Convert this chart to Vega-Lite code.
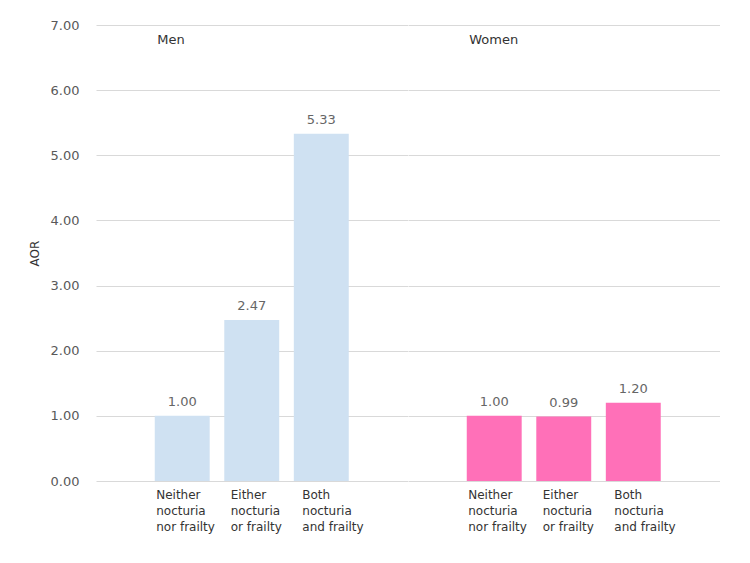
{
  "$schema": "https://vega.github.io/schema/vega-lite/v6.json",
  "padding": {"left": 28, "top": 19, "right": 5, "bottom": 5},
  "background": "white",
  "config": {
    "font": "DejaVu Sans",
    "view": {"stroke": null},
    "axis": {"gridColor": "#D9D9D9", "domain": false, "ticks": false}
  },
  "data": {
    "values": [
      {"sex": "Men", "group": "Neither|nocturia|nor frailty", "aor": 1.00},
      {"sex": "Men", "group": "Either|nocturia|or frailty", "aor": 2.47},
      {"sex": "Men", "group": "Both|nocturia|and frailty", "aor": 5.33},
      {"sex": "Women", "group": "Neither|nocturia|nor frailty", "aor": 1.00},
      {"sex": "Women", "group": "Either|nocturia|or frailty", "aor": 0.99},
      {"sex": "Women", "group": "Both|nocturia|and frailty", "aor": 1.20}
    ]
  },
  "facet": {
    "column": {"field": "sex", "type": "nominal", "header": null, "sort": ["Men", "Women"]}
  },
  "spacing": 0,
  "spec": {
    "width": 311.5,
    "height": 456,
    "encoding": {
      "x": {
        "field": "group",
        "type": "nominal",
        "sort": null,
        "title": null,
        "scale": {"paddingInner": 0.21, "paddingOuter": 0.845},
        "axis": {
          "labelAngle": 0,
          "labelAlign": "left",
          "labelBaseline": "top",
          "labelOffset": {
            "condition": [
              {"test": "datum.value == 'Either|nocturia|or frailty'", "value": -21},
              {"test": "datum.value == 'Both|nocturia|and frailty'", "value": -19}
            ],
            "value": -26
          },
          "labelPadding": 8,
          "labelFontSize": 12,
          "labelLineHeight": 16,
          "labelColor": "#333333",
          "labelExpr": "split(datum.label, '|')"
        }
      },
      "y": {
        "field": "aor",
        "type": "quantitative",
        "title": "AOR",
        "scale": {"domain": [0, 7]},
        "axis": {
          "values": [0, 1, 2, 3, 4, 5, 6, 7],
          "format": ".2f",
          "labelFontSize": 13,
          "labelColor": "#595959",
          "labelPadding": 17,
          "titleFontSize": 12,
          "titleFontWeight": "normal",
          "titleColor": "#333333",
          "titlePadding": 9
        }
      }
    },
    "layer": [
      {
        "mark": {"type": "bar"},
        "encoding": {
          "color": {
            "field": "sex",
            "type": "nominal",
            "scale": {"domain": ["Men", "Women"], "range": ["#CFE1F2", "#FF70B8"]},
            "legend": null
          }
        }
      },
      {
        "mark": {"type": "text", "baseline": "bottom", "dy": -7, "fontSize": 13, "color": "#666666"},
        "encoding": {"text": {"field": "aor", "type": "quantitative", "format": ".2f"}}
      },
      {
        "transform": [{"filter": "datum.group == 'Neither|nocturia|nor frailty'"}],
        "mark": {"type": "text", "align": "left", "baseline": "top", "dx": -25, "dy": 9, "fontSize": 13, "color": "#333333"},
        "encoding": {
          "y": {"datum": 7},
          "text": {"field": "sex", "type": "nominal"}
        }
      }
    ]
  }
}
